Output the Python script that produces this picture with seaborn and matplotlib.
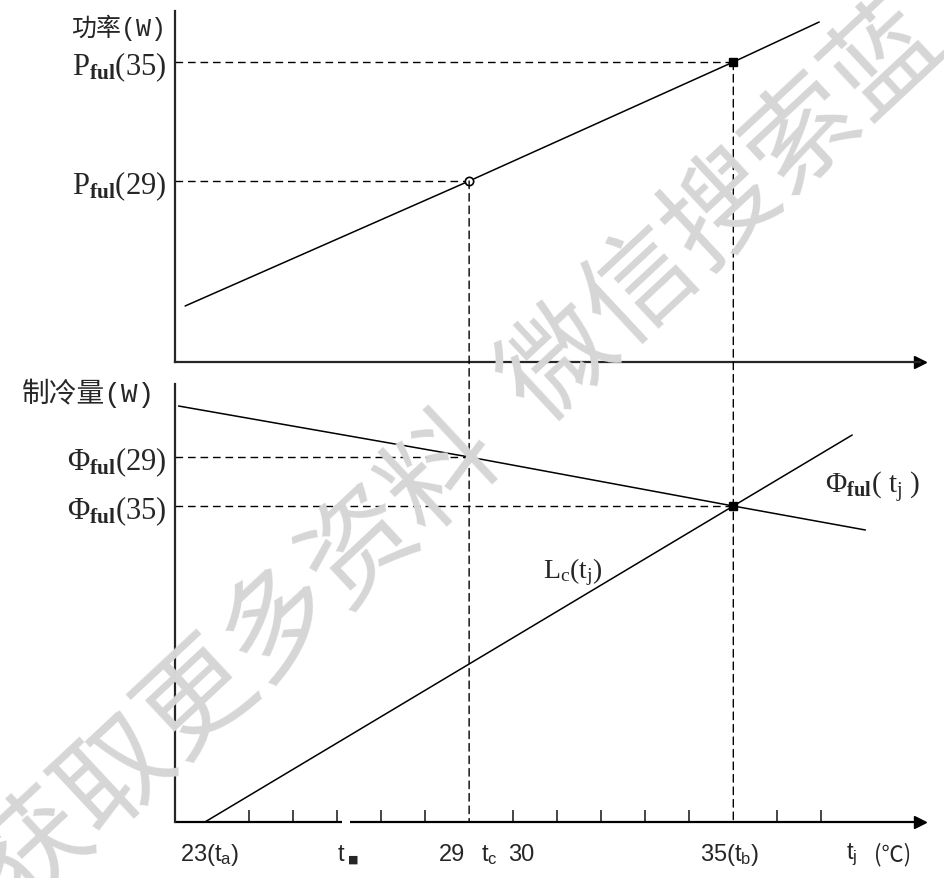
## Full-load power / cooling capacity vs outdoor temperature
#Import librairies

import matplotlib
matplotlib.use("Agg")
import matplotlib.pyplot as plt
from matplotlib.patches import ConnectionPatch
from matplotlib.transforms import blended_transform_factory
import seaborn as sns

#values (temperature in degC, W in drawing units)

power_t = [22.55, 29, 35, 36.95]
power_w = [56, 181, 300, 340]

cap_t = [22.4, 29, 35, 38.0]
cap_w = [416, 365, 316, 292]

load_t = [23, 35, 37.7]
load_w = [0, 316, 387]

# the two marked operating points
t_pts = [29, 35]
p_pts = [181, 300]
phi_pts = [365, 316]

p_labels = [r'P$_{\mathbf{ful}}$(29)', r'P$_{\mathbf{ful}}$(35)']
phi_labels = [r'Φ$_{\mathbf{ful}}$(29)', r'Φ$_{\mathbf{ful}}$(35)']

tick_t = [24, 25, 26, 27, 28, 30, 31, 32, 33, 34, 36, 37]

#style

sns.set_style("white")
plt.rcParams['font.family'] = ['Liberation Serif', 'Noto Sans CJK SC', 'DejaVu Sans']
plt.rcParams['mathtext.fontset'] = 'custom'
plt.rcParams['mathtext.rm'] = 'Liberation Serif'
plt.rcParams['mathtext.bf'] = 'Liberation Serif:bold'
plt.rcParams['mathtext.it'] = 'Liberation Serif:italic'
plt.rcParams['mathtext.default'] = 'regular'

fig = plt.figure(figsize=(9.45, 8.79), dpi=100)
W, H = 945, 879
ax_top = fig.add_axes([175 / W, 1 - 363 / H, 745 / W, 351 / H])
ax_bot = fig.add_axes([175 / W, 1 - 823 / H, 745 / W, 438 / H])

xlim = (22.32, 39.24)
ax_top.set_xlim(xlim)
ax_top.set_ylim(0, 351)
ax_bot.set_xlim(xlim)
ax_bot.set_ylim(0, 438)

dash = (0, (5.5, 3.5))

for ax in (ax_top, ax_bot):
    for s in ('top', 'right'):
        ax.spines[s].set_visible(False)
    ax.spines['left'].set_linewidth(1.6)
    ax.spines['bottom'].set_linewidth(1.6)
    ax.set_xticks([])
    ax.set_xlabel('')
    ax.set_ylabel('')
    ax.patch.set_alpha(0)
    # arrow head on the temperature axis
    ax.plot(1.0, 0, marker='>', color='black', ms=9, transform=ax.transAxes, clip_on=False)

#top : power

sns.lineplot(x=power_t, y=power_w, ax=ax_top, color='black', lw=1.1)
ax_top.set_yticks(p_pts, labels=p_labels)
ax_top.tick_params(axis='y', length=0, pad=6, labelsize=22)
ax_top.text(-0.012, 0.955, '功率(W)', transform=ax_top.transAxes, ha='right', va='center', fontsize=18,
            family=['Liberation Mono', 'Noto Sans CJK SC'])

#bottom : cooling capacity and building load

sns.lineplot(x=cap_t, y=cap_w, ax=ax_bot, color='black', lw=1.1)
sns.lineplot(x=load_t, y=load_w, ax=ax_bot, color='black', lw=1.1)
ax_bot.set_yticks(phi_pts, labels=phi_labels)
ax_bot.tick_params(axis='y', length=0, pad=6, labelsize=22)
ax_bot.text(-0.027, 0.982, '制冷量(W)', transform=ax_bot.transAxes, ha='right', va='center', fontsize=20,
            family=['Liberation Mono', 'Noto Sans CJK SC'])

# x axis drawn in two pieces (small break near t_a)
ax_bot.spines['bottom'].set_visible(False)
blend = blended_transform_factory(ax_bot.transData, ax_bot.transAxes)
ax_bot.plot([xlim[0], 26.12], [0, 0], color='black', lw=1.6, transform=blend, clip_on=False, solid_capstyle='butt')
ax_bot.plot([26.3, xlim[1]], [0, 0], color='black', lw=1.6, transform=blend, clip_on=False, solid_capstyle='butt')
ax_bot.set_xticks(tick_t)
ax_bot.tick_params(axis='x', direction='in', length=8.5, width=1.2, labelbottom=False, bottom=True)

#dashed guides and points

for t, p, phi, filled in zip(t_pts, p_pts, phi_pts, [False, True]):
    ax_top.plot([xlim[0], t], [p, p], color='black', lw=1, ls=dash)
    ax_bot.plot([xlim[0], t], [phi, phi], color='black', lw=1, ls=dash)
    con = ConnectionPatch(xyA=(t, p), coordsA=ax_top.transData, xyB=(t, 0), coordsB=ax_bot.transData,
                          color='black', lw=1, ls=dash)
    fig.add_artist(con)
    if filled:
        ax_top.plot(t, p, 's', color='black', ms=6, zorder=5)
        ax_bot.plot(t, phi, 's', color='black', ms=6, zorder=5)
    else:
        ax_top.plot(t, p, 'o', mfc='white', mec='black', mew=1.2, ms=6, zorder=5)
        ax_bot.plot(t, phi, 'o', mfc='white', mec='black', mew=1.2, ms=6, zorder=5)

#curve names

ax_bot.text(37.08, 335, r'Φ$_{\mathbf{ful}}$( t$_{j}$ )', ha='left', va='center', fontsize=21)
ax_bot.text(30.68, 251, r'L$_{c}$(t$_{j}$)', ha='left', va='center', fontsize=20)

#temperature labels under the axis

sans = ['Liberation Sans', 'Noto Sans CJK SC']
ax_bot.text(23.1, -0.073, r'23(t$_{a}$)', transform=blend, ha='center', va='center', fontsize=17, family=sans)
ax_bot.text(26.09, -0.073, 't', transform=blend, ha='center', va='center', fontsize=17, family=sans)
ax_bot.text(26.36, -0.084, '■', transform=blend, ha='center', va='center', fontsize=8, family=['DejaVu Sans'])
ax_bot.text(28.61, -0.073, '29', transform=blend, ha='center', va='center', fontsize=17, family=sans)
ax_bot.text(29.47, -0.073, r't$_{c}$', transform=blend, ha='center', va='center', fontsize=17, family=sans)
ax_bot.text(30.18, -0.073, '30', transform=blend, ha='center', va='center', fontsize=17, family=sans)
ax_bot.text(34.92, -0.073, r'35(t$_{b}$)', transform=blend, ha='center', va='center', fontsize=17, family=sans)
ax_bot.text(37.7, -0.073, r't$_{j}$', transform=blend, ha='center', va='center', fontsize=17, family=sans)
ax_bot.text(38.62, -0.073, '(℃)', transform=blend, ha='center', va='center', fontsize=16, family=['Noto Sans CJK SC'])

#watermark

fig.text(-0.003, -0.015, '获取更多资料  微信搜索蓝', rotation=43, rotation_mode='anchor',
         ha='left', va='center', fontsize=80, color='#d6d6d6', family=['Noto Sans CJK SC'], zorder=10)

fig.savefig('out.png', dpi=100)
